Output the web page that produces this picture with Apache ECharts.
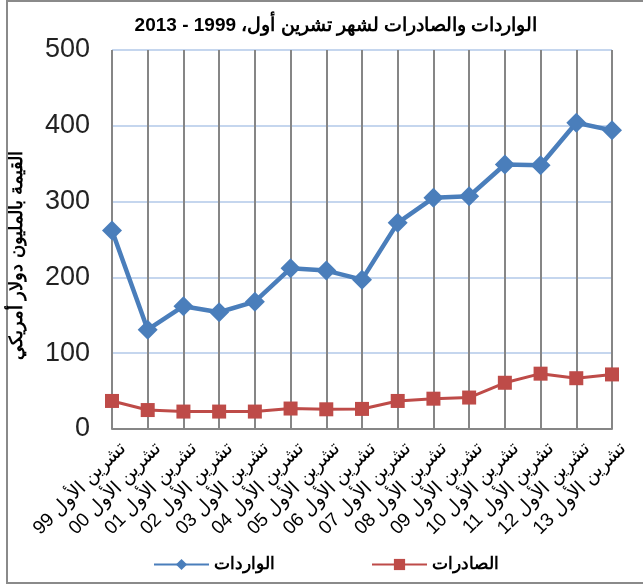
<!DOCTYPE html>
<html>
<head>
<meta charset="utf-8">
<script src="https://cdn.jsdelivr.net/npm/echarts@6/dist/echarts.min.js"></script>
<style>
html,body{margin:0;padding:0;background:#fff;}
#c{width:643px;height:586px;}
</style>
</head>
<body>
<div id="c" dir="rtl"></div>
<script>
var categories = ['تشرين الأول 99','تشرين الأول 00','تشرين الأول 01','تشرين الأول 02','تشرين الأول 03','تشرين الأول 04','تشرين الأول 05','تشرين الأول 06','تشرين الأول 07','تشرين الأول 08','تشرين الأول 09','تشرين الأول 10','تشرين الأول 11','تشرين الأول 12','تشرين الأول 13'];
var imports = [262, 131, 162, 154, 168, 212, 209, 197, 272, 305, 307, 349, 348, 404, 394];
var exports = [37, 25, 23, 23, 23, 27, 26, 26.5, 37, 40, 41.5, 61, 73, 67, 72];
var importsName = 'الواردات';
var exportsName = 'الصادرات';
var titleText = 'الواردات والصادرات لشهر تشرين أول، 1999 - 2013';
var yAxisName = 'القيمة بالمليون دولار أمريكي';
var yMin = 0, yMax = 500, yInterval = 100;

var chart = echarts.init(document.getElementById('c'), null, {renderer:'canvas'});
chart.setOption({
  animation: false,
  backgroundColor: '#fff',
  title: {
    text: titleText,
    left: 331, top: 11, textAlign: 'center',
    textStyle: {fontFamily: 'Liberation Sans, Arial', fontSize: 19, fontWeight: 'bold', color: '#000'}
  },
  graphic: [{
    type: 'rect', silent: true, z: -1,
    shape: {x: 7, y: 1, width: 700, height: 582},
    style: {fill: 'none', stroke: '#8a8a8a', lineWidth: 2}
  }],
  legend: {
    bottom: 8, left: 148,
    itemWidth: 55, itemHeight: 14, itemGap: 96,
    textStyle: {fontFamily: 'Liberation Sans, Arial', fontSize: 17, fontWeight: 'bold', color: '#000'},
    data: [importsName, exportsName]
  },
  grid: {left: 108, right: 31, top: 50, bottom: 157, containLabel: false},
  xAxis: {
    type: 'category', data: categories, boundaryGap: false,
    axisLine: {lineStyle: {color: '#868686', width: 2}},
    axisTick: {show: false},
    splitLine: {show: true, lineStyle: {color: '#868686', width: 2}},
    axisLabel: {rotate: 45, margin: 6, interval: 0, verticalAlign: 'top', lineHeight: 30,
      fontFamily: 'Liberation Sans, Arial', fontSize: 19, color: '#000'}
  },
  yAxis: {
    type: 'value', min: yMin, max: yMax, interval: yInterval,
    name: yAxisName, nameLocation: 'middle', nameGap: 86, nameRotate: 90,
    nameTextStyle: {fontFamily: 'Liberation Sans, Arial', fontSize: 18, fontWeight: 'bold', color: '#000', padding: [0, 32, 0, 0]},
    axisLine: {show: false}, axisTick: {show: false},
    splitLine: {lineStyle: {color: '#c5d6ee', width: 2}},
    axisLabel: {margin: 22, fontFamily: 'Liberation Sans, Arial', fontSize: 27, color: '#222'}
  },
  series: [{
    name: importsName, type: 'line', data: imports,
    symbol: 'diamond', symbolSize: [20, 20],
    lineStyle: {color: '#4a7ebb', width: 4.5},
    itemStyle: {color: '#4a7ebb'}
  }, {
    name: exportsName, type: 'line', data: exports,
    symbol: 'rect', symbolSize: 14,
    lineStyle: {color: '#be4b48', width: 3},
    itemStyle: {color: '#be4b48'}
  }]
});
</script>
</body>
</html>
